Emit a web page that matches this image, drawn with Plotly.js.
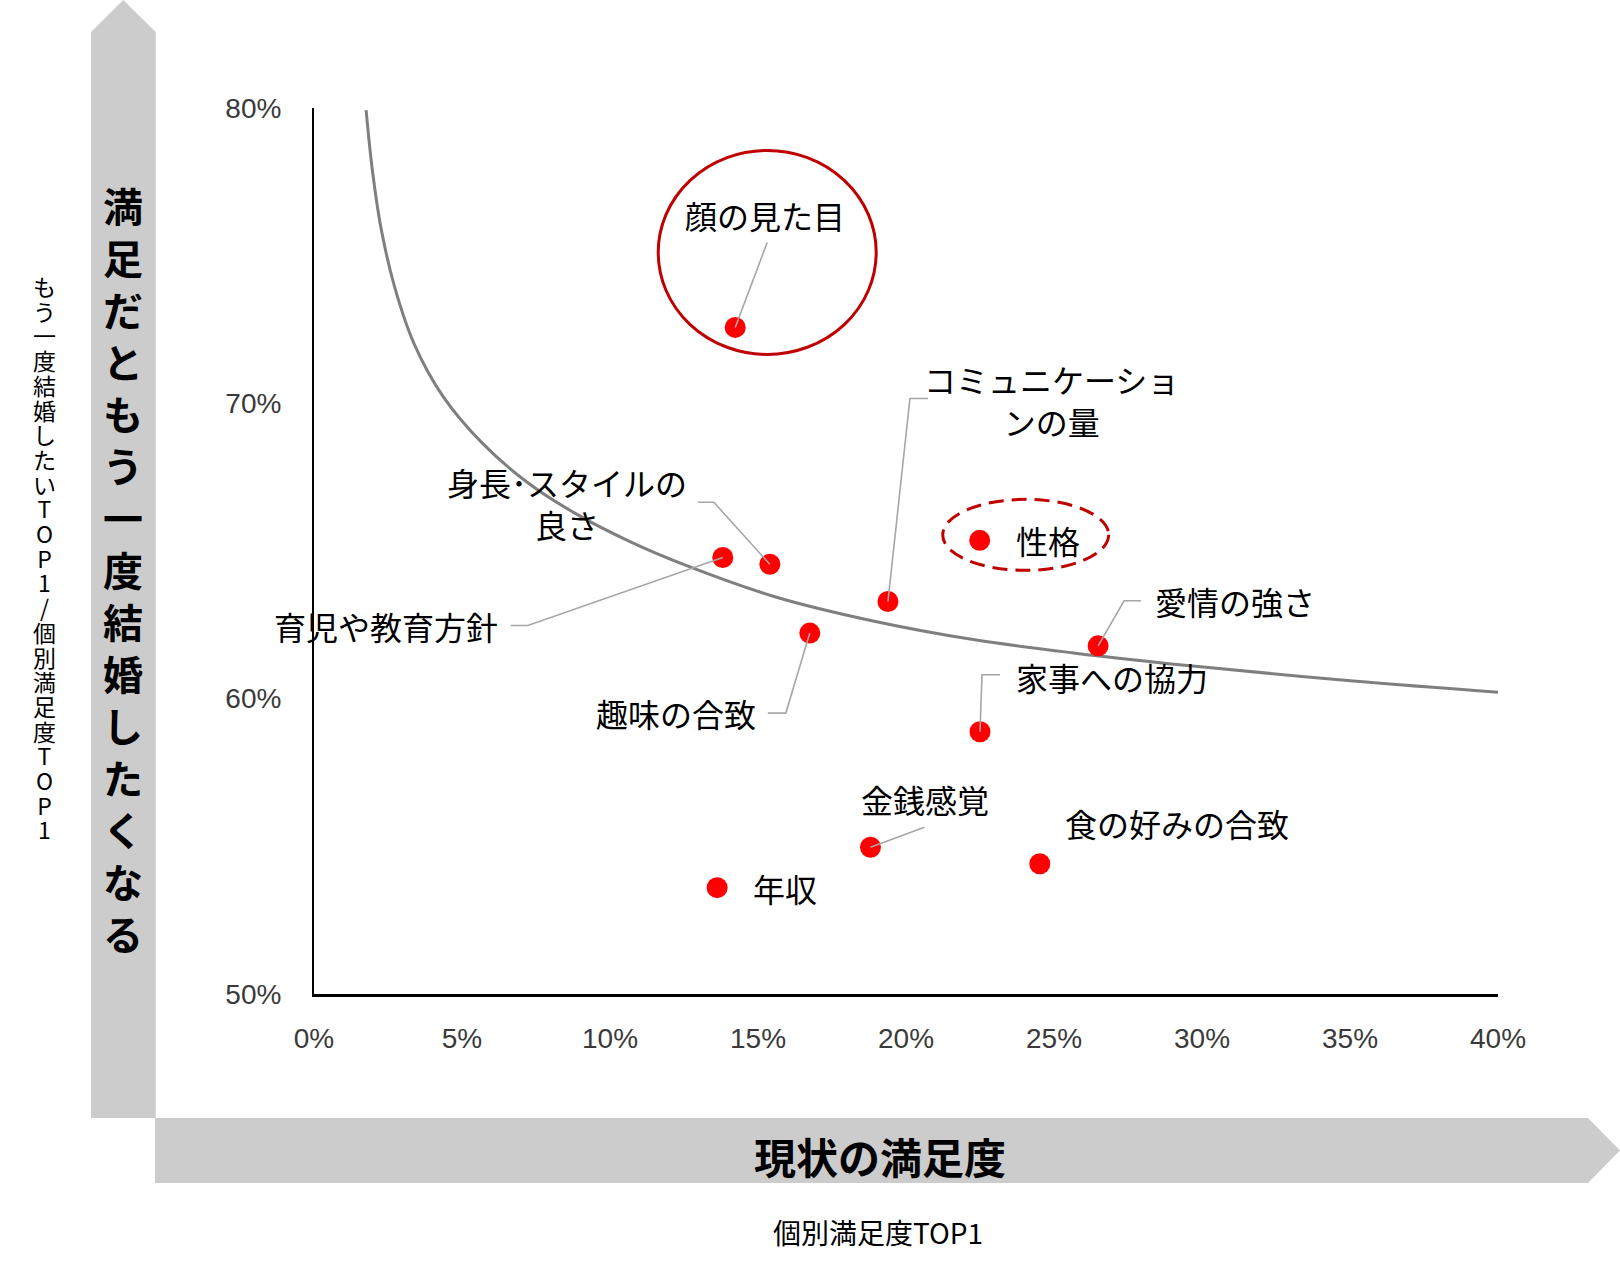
<!DOCTYPE html>
<html><head><meta charset="utf-8">
<script src="https://cdn.plot.ly/plotly-3.0.1.min.js"></script>
<style>html,body{margin:0;padding:0;background:#fff;} #chart{width:1620px;height:1266px;}</style>
</head><body><div id="chart"></div>
<script>
// ---- data ----
const items = ['顔の見た目','コミュニケーションの量','身長・スタイルの良さ','育児や教育方針','性格','愛情の強さ','家事への協力','趣味の合致','金銭感覚','食の好みの合致','年収'];
const currentSatisfaction = [14.23, 19.39, 15.40, 13.81, 22.49, 26.49, 22.50, 16.75, 18.80, 24.52, 13.62];
const wantRemarry = [72.57, 63.29, 64.55, 64.78, 65.36, 61.79, 58.88, 62.22, 54.97, 54.41, 53.60];
const curveX = [1.76, 1.97, 2.27, 2.73, 3.39, 4.37, 5.67, 7.20, 8.90, 10.71, 12.57, 15.51, 18.89, 22.27, 25.65, 30.04, 35.11, 40.13];
const curveY = [79.93, 77.91, 75.90, 73.92, 72.00, 70.22, 68.67, 67.33, 66.23, 65.30, 64.51, 63.47, 62.63, 62.00, 61.55, 61.07, 60.60, 60.21];
const xTickVals = [0,5,10,15,20,25,30,35,40];
const yTickVals = [50,60,70,80];
const yTitleBig = '満足だともう一度結婚したくなる';
const xTitleBig = '現状の満足度';
const yTitleSmall = 'もう一度結婚したいTOP1/個別満足度TOP1';
const xTitleSmall = '個別満足度TOP1';

// ---- placement / style (pixel offsets from each point, y up) ----
const place = {
  '顔の見た目':        {text:'顔の見た目', dx:30, dy:112, xa:'center', leader:[[32,85]]},
  'コミュニケーションの量': {text:'コミュニケーショ<br>ンの量', dx:164, dy:202, xa:'center', leader:[[22,203],[40,203]]},
  '身長・スタイルの良さ': {text:'身長･スタイルの<br>良さ', dx:-203, dy:61, xa:'center', leader:[[-56,62],[-72,62]]},
  '育児や教育方針':    {text:'育児や教育方針', dx:-223, dy:-68, xa:'right', leader:[[-195,-68],[-212,-68]]},
  '性格':              {text:'性格', dx:34, dy:0, xa:'left', leader:null},
  '愛情の強さ':        {text:'愛情の強さ', dx:55, dy:45, xa:'left', leader:[[26,45],[43,45]]},
  '家事への協力':      {text:'家事への協力', dx:34, dy:55, xa:'left', leader:[[2,57],[20,57]]},
  '趣味の合致':        {text:'趣味の合致', dx:-52, dy:-80, xa:'right', leader:[[-24,-80],[-42,-80]]},
  '金銭感覚':          {text:'金銭感覚', dx:55, dy:48, xa:'center', leader:[[54,20]]},
  '食の好みの合致':    {text:'食の好みの合致', dx:23, dy:41, xa:'left', leader:null},
  '年収':              {text:'年収', dx:34, dy:0, xa:'left', leader:null}
};

const M = {l:314, r:122, t:108, b:272};
const W = 1620, H = 1266;
const PW = W - M.l - M.r, PH = H - M.t - M.b;
const px = v => (v - M.l) / PW;
const py = v => (H - M.b - v) / PH;
const polyPaper = pts => 'M' + pts.map(p => px(p[0]).toFixed(5) + ',' + py(p[1]).toFixed(5)).join(' L') + ' Z';

const CJK = '"Noto Sans CJK JP", "Noto Sans", sans-serif';
const TICKFONT = {family:'"Liberation Sans", Arial, sans-serif', size:28, color:'#3a3a3a'};

const traces = [
  {x: curveX, y: curveY, mode: 'lines', type: 'scatter', line: {shape: 'spline', smoothing: 1, color: '#7f7f7f', width: 3}, hoverinfo: 'skip'},
  {x: currentSatisfaction, y: wantRemarry, text: items, mode: 'markers', type: 'scatter',
   marker: {size: 21, color: '#ff0000', line: {width: 0}}}
];

const shapes = [];
const annotations = [];

// background arrows
shapes.push({type:'path', xref:'paper', yref:'paper', layer:'below', fillcolor:'#cccccc', line:{width:0},
  path: polyPaper([[91,1118],[91,32],[123.3,0],[155.7,32],[155.7,1118]])});
shapes.push({type:'path', xref:'paper', yref:'paper', layer:'below', fillcolor:'#cccccc', line:{width:0},
  path: polyPaper([[155,1118],[1588,1118],[1620,1150.5],[1588,1183],[155,1183]])});

items.forEach((name, i) => {
  const p = place[name];
  const x = currentSatisfaction[i], y = wantRemarry[i];
  if (p.leader) {
    shapes.push({type:'path', xref:'x', yref:'y', xsizemode:'pixel', ysizemode:'pixel', xanchor:x, yanchor:y,
      layer:'above', line:{color:'#a6a6a6', width:1.6},
      path: 'M0,0 ' + p.leader.map(q => 'L' + q[0] + ',' + q[1]).join(' ')});
  }
  annotations.push({xref:'x', yref:'y', x:x, y:y, text:p.text, showarrow:false, xshift:p.dx, yshift:p.dy,
    xanchor:p.xa, yanchor:'middle', align:'center', font:{family:CJK, size:32, color:'#000'}});
});

// highlight ellipses (anchored on their points)
const iFace = items.indexOf('顔の見た目');
shapes.push({type:'circle', xref:'x', yref:'y', xsizemode:'pixel', ysizemode:'pixel',
  xanchor: currentSatisfaction[iFace], yanchor: wantRemarry[iFace], x0:-77, x1:141, y0:-27, y1:177,
  line:{color:'#c00000', width:3}, layer:'above'});
const iPers = items.indexOf('性格');
shapes.push({type:'circle', xref:'x', yref:'y', xsizemode:'pixel', ysizemode:'pixel',
  xanchor: currentSatisfaction[iPers], yanchor: wantRemarry[iPers], x0:-37, x1:129, y0:-30, y1:41,
  line:{color:'#c00000', width:3, dash:'15px,8px'}, layer:'above'});

// big titles on arrows
annotations.push({xref:'paper', yref:'paper', x:px(123), y:py(569), text:Array.from(yTitleBig).join('<br>'),
  showarrow:false, xanchor:'center', yanchor:'middle', font:{family:CJK, size:40, color:'#000', weight:'bold'}});
annotations.push({xref:'paper', yref:'paper', x:px(880), y:py(1155), text:xTitleBig,
  showarrow:false, xanchor:'center', yanchor:'middle', font:{family:CJK, size:42, color:'#000', weight:'bold'}});
// small vertical title: one text, line pitch from base size 19, glyphs drawn at 23px
annotations.push({xref:'paper', yref:'paper', x:px(44), y:py(557), showarrow:false, xanchor:'center', yanchor:'middle',
  text: Array.from(yTitleSmall).map(ch => '<span style="font-size:23px">' + ch + '</span>').join('<br>'),
  font:{family:CJK, size:19, color:'#000'}});
annotations.push({xref:'paper', yref:'paper', x:px(878), y:py(1232), text:xTitleSmall,
  showarrow:false, xanchor:'center', yanchor:'middle', font:{family:CJK, size:28, color:'#000'}});

const layout = {
  width: W, height: H, margin: {l:M.l, r:M.r, t:M.t, b:M.b, pad:0},
  paper_bgcolor:'#fff', plot_bgcolor:'#fff', showlegend:false,
  xaxis: {range:[0,40], tickvals:xTickVals, ticktext:xTickVals.map(v=>v+'%'), showgrid:false, zeroline:false,
    showline:true, linecolor:'#000', linewidth:2.5, ticks:'', ticklabelstandoff:18,
    tickfont:TICKFONT, fixedrange:true},
  yaxis: {range:[50,80], tickvals:yTickVals, ticktext:yTickVals.map(v=>v+'%'), showgrid:false, zeroline:false,
    showline:true, linecolor:'#000', linewidth:2, ticks:'', ticklabelstandoff:25,
    tickfont:TICKFONT, fixedrange:true},
  shapes: shapes, annotations: annotations
};

Plotly.newPlot('chart', traces, layout, {displayModeBar:false, staticPlot:true});
</script></body></html>
